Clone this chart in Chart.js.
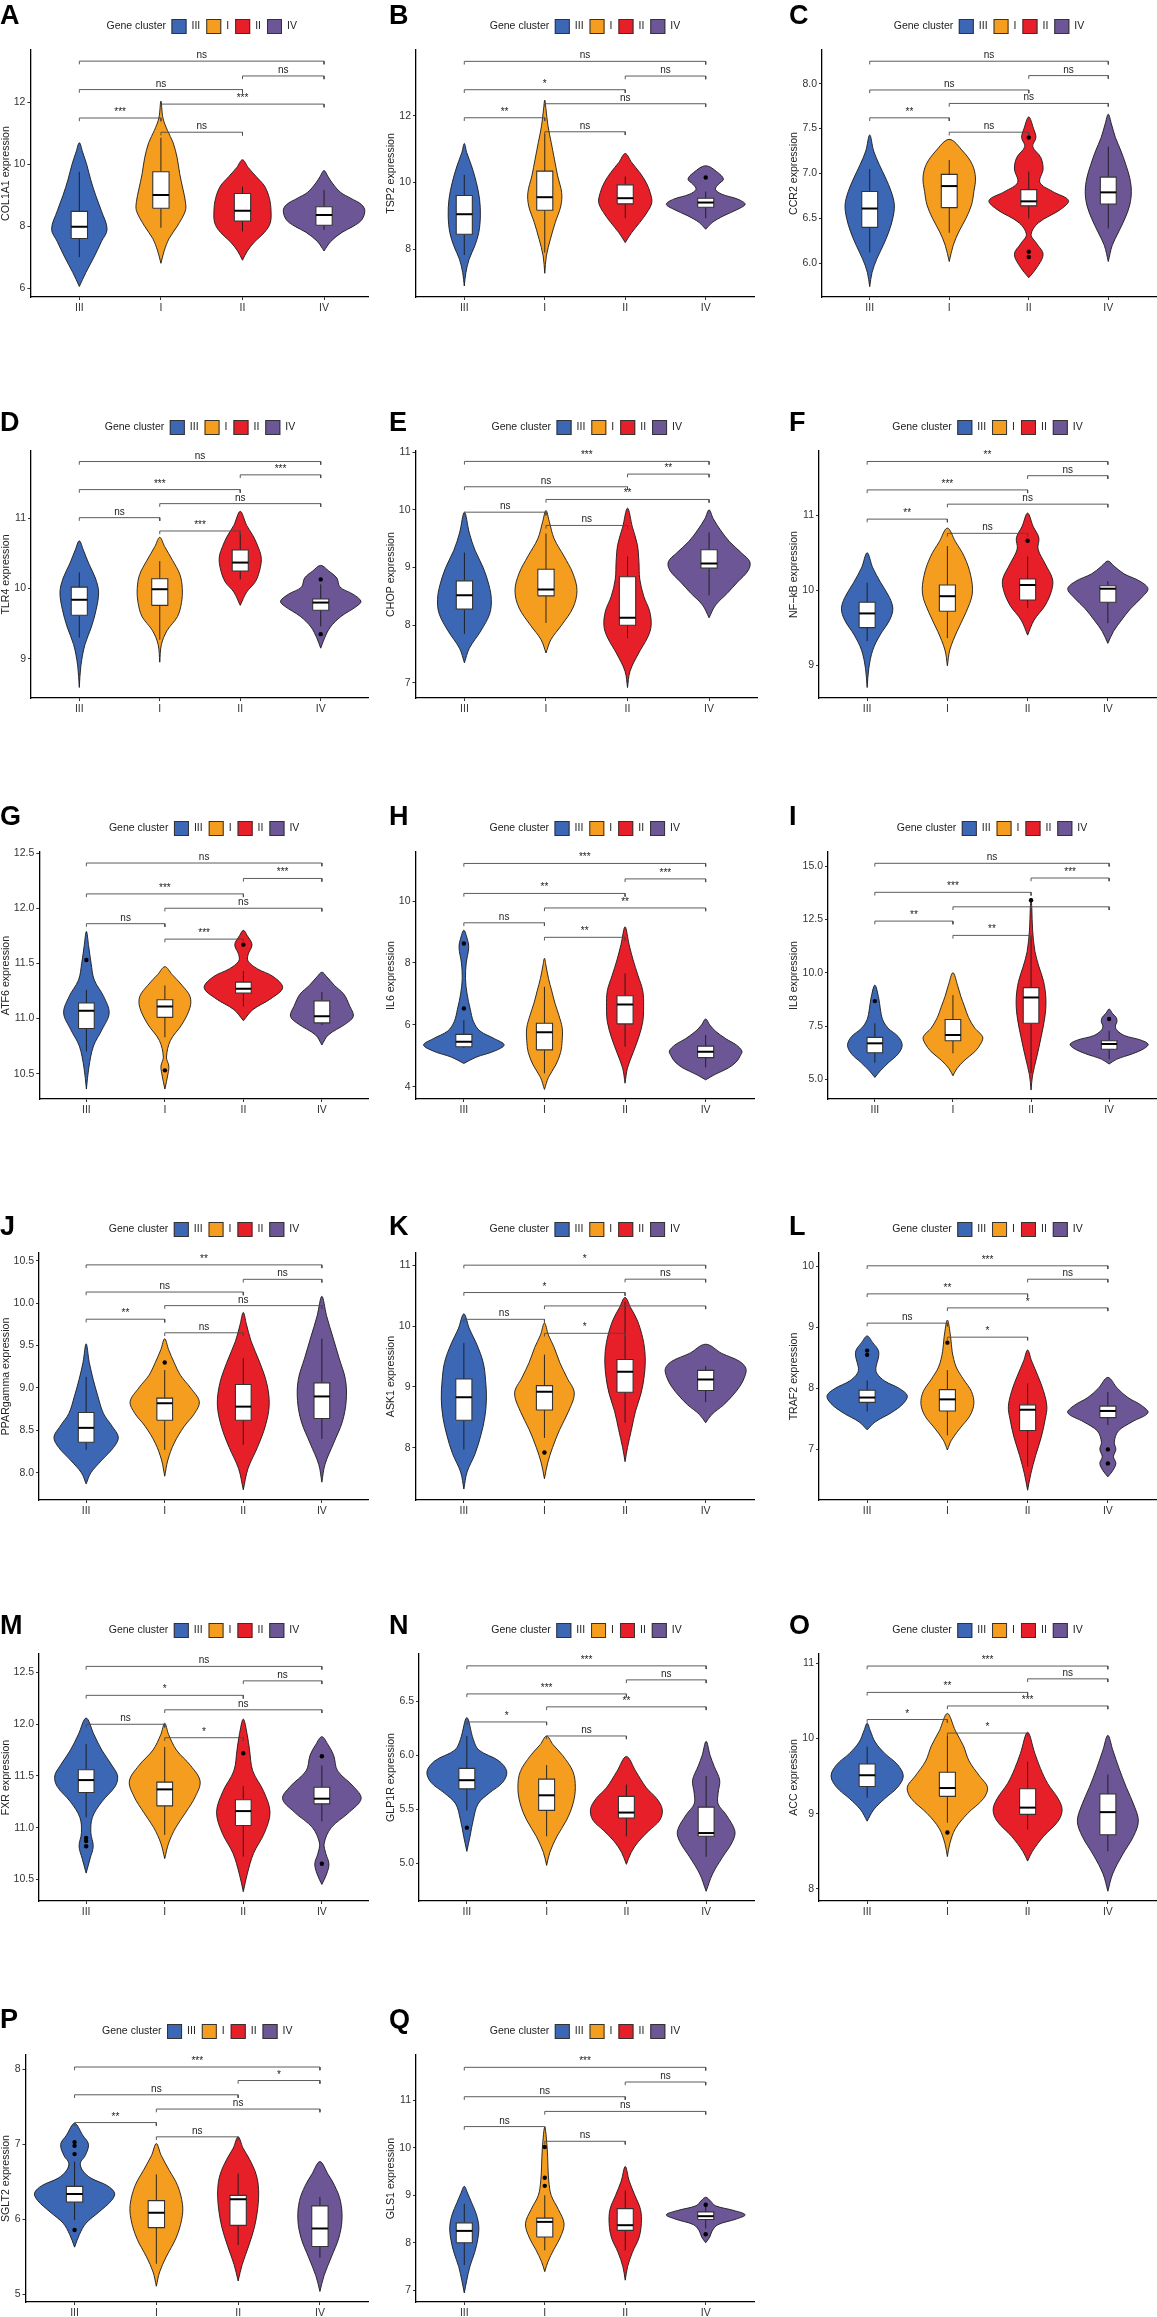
<!DOCTYPE html>
<html lang="en">
<head>
<meta charset="UTF-8" />
<title>Gene cluster expression violins</title>
<script src="https://cdn.jsdelivr.net/npm/chart.js"></script>
<style>
  body { margin: 0; width: 1157px; height: 2317px; position: relative; overflow: hidden; background: #fff; }
  .panel { position: absolute; overflow: hidden; }
  .tag { position: absolute; font: bold 27px/27px "Liberation Sans", Arial, sans-serif; color: #000; }
</style>
</head>
<body>
<script>
// ---- data ----
const clusters = ["III", "I", "II", "IV"];
const panelTags = ["A","B","C","D","E","F","G","H","I","J","K","L","M","N","O","P","Q"];
const genes = ["COL1A1","TSP2","CCR2","TLR4","CHOP","NF\u2212kB","ATF6","IL6","IL8","PPARgamma","ASK1","TRAF2","FXR","GLP1R","ACC","SGLT2","GLS1"];

const yRanges = [[5.71,13.7],[6.57,13.97],[5.625,8.375],[8.44,11.96],[6.74,11.02],[8.56,11.86],
  [10.27,12.51],[3.6,11.59],[4.08,15.66],[7.68,10.59],[7.14,11.2],[6.17,10.22],
  [10.29,12.68],[4.65,6.94],[7.84,11.12],[4.9,8.19],[6.75,11.96]];
const yTicks = [[6,8,10,12],[8,10,12],[6,6.5,7,7.5,8],[9,10,11],[7,8,9,10,11],[9,10,11],
  [10.5,11,11.5,12,12.5],[4,6,8,10],[5,7.5,10,12.5,15],[8,8.5,9,9.5,10,10.5],[8,9,10,11],[7,8,9,10],
  [10.5,11,11.5,12,12.5],[5,5.5,6,6.5],[8,9,10,11],[5,6,7,8],[7,8,9,10,11]];
const tickDecimals = [0,0,1,0,0,0,1,0,1,1,0,0,1,1,0,0,0];

// violin outlines: [value, half width in category units], bottom to top, per cluster III, I, II, IV
const violinShapes = [
 [ // A
  [[6.05,0],[6.5,0.08],[7,0.18],[7.5,0.27],[7.9,0.34],[8.5,0.27],[9,0.2],[9.5,0.14],[10,0.09],[10.4,0.04],[10.7,0]],
  [[6.8,0],[7.2,0.04],[7.6,0.1],[8,0.2],[8.5,0.3],[8.8,0.3],[9.2,0.27],[9.7,0.23],[10.2,0.2],[10.7,0.15],[11.1,0.08],[11.5,0.025],[12.05,0]],
  [[6.9,0],[7.2,0.06],[7.5,0.15],[7.8,0.27],[8.1,0.34],[8.5,0.35],[8.9,0.33],[9.3,0.27],[9.6,0.17],[9.9,0.07],[10.15,0]],
  [[7.2,0],[7.5,0.08],[7.8,0.22],[8,0.36],[8.2,0.46],[8.5,0.5],[8.7,0.46],[8.9,0.33],[9.1,0.2],[9.4,0.1],[9.6,0.05],[9.8,0]]
 ],
 [ // B
  [[6.9,0],[7.3,0.02],[7.7,0.06],[8.1,0.13],[8.5,0.18],[9,0.2],[9.5,0.19],[10,0.15],[10.5,0.09],[10.9,0.03],[11.17,0]],
  [[7.28,0],[7.8,0.02],[8.3,0.07],[8.8,0.13],[9.3,0.2],[9.7,0.21],[10.2,0.16],[10.7,0.12],[11.2,0.08],[11.7,0.04],[12.2,0.015],[12.47,0]],
  [[8.2,0],[8.5,0.08],[8.8,0.18],[9.1,0.27],[9.4,0.33],[9.7,0.31],[10,0.26],[10.3,0.18],[10.6,0.08],[10.87,0]],
  [[8.6,0],[8.8,0.08],[9,0.22],[9.2,0.4],[9.35,0.49],[9.5,0.4],[9.65,0.2],[9.8,0.12],[9.95,0.16],[10.1,0.22],[10.3,0.15],[10.5,0]]
 ],
 [ // C
  [[5.74,0],[5.9,0.03],[6.05,0.09],[6.2,0.17],[6.35,0.24],[6.5,0.29],[6.65,0.31],[6.8,0.27],[6.95,0.2],[7.1,0.12],[7.25,0.05],[7.43,0]],
  [[6.02,0],[6.2,0.05],[6.35,0.12],[6.5,0.21],[6.65,0.28],[6.8,0.31],[6.95,0.33],[7.1,0.29],[7.25,0.17],[7.38,0]],
  [[5.84,0],[5.95,0.1],[6.1,0.18],[6.22,0.1],[6.32,0.03],[6.45,0.12],[6.6,0.4],[6.7,0.5],[6.8,0.3],[6.9,0.14],[7.05,0.18],[7.18,0.15],[7.3,0.05],[7.4,0.09],[7.5,0.06],[7.63,0]],
  [[6.02,0],[6.2,0.05],[6.35,0.13],[6.5,0.21],[6.65,0.27],[6.8,0.29],[6.95,0.27],[7.1,0.22],[7.25,0.16],[7.4,0.09],[7.55,0.04],[7.66,0]]
 ],
 [ // D
  [[8.59,0],[8.9,0.02],[9.2,0.07],[9.45,0.15],[9.7,0.21],[9.95,0.24],[10.15,0.2],[10.35,0.12],[10.55,0.05],[10.68,0]],
  [[8.95,0],[9.2,0.02],[9.4,0.09],[9.6,0.22],[9.8,0.27],[10,0.28],[10.2,0.25],[10.4,0.16],[10.6,0.06],[10.73,0]],
  [[9.76,0],[9.95,0.08],[10.1,0.19],[10.3,0.25],[10.45,0.26],[10.6,0.22],[10.75,0.16],[10.9,0.08],[11.1,0]],
  [[9.15,0],[9.3,0.05],[9.45,0.12],[9.6,0.25],[9.75,0.45],[9.82,0.5],[9.92,0.4],[10.02,0.24],[10.15,0.2],[10.25,0.1],[10.33,0]]
 ],
 [ // E
  [[7.35,0],[7.6,0.06],[7.9,0.2],[8.2,0.31],[8.45,0.33],[8.7,0.3],[9,0.23],[9.3,0.13],[9.6,0.06],[9.96,0]],
  [[7.52,0],[7.75,0.06],[8,0.19],[8.3,0.33],[8.6,0.38],[8.9,0.33],[9.2,0.22],[9.5,0.1],[9.8,0.04],[9.99,0]],
  [[6.92,0],[7.2,0.03],[7.5,0.13],[7.8,0.25],[8,0.29],[8.25,0.27],[8.5,0.2],[8.8,0.15],[9.1,0.14],[9.4,0.12],[9.7,0.06],[10.03,0]],
  [[8.13,0],[8.35,0.08],[8.55,0.22],[8.75,0.35],[8.95,0.48],[9.1,0.5],[9.25,0.4],[9.45,0.25],[9.65,0.14],[9.85,0.05],[10,0]]
 ],
 [ // F
  [[8.7,0],[8.95,0.02],[9.2,0.07],[9.4,0.16],[9.6,0.28],[9.75,0.32],[9.9,0.28],[10.1,0.17],[10.3,0.07],[10.5,0]],
  [[8.99,0],[9.2,0.03],[9.45,0.12],[9.7,0.23],[9.95,0.31],[10.2,0.29],[10.45,0.21],[10.65,0.1],[10.83,0]],
  [[9.4,0],[9.6,0.08],[9.8,0.22],[10,0.3],[10.15,0.31],[10.35,0.22],[10.55,0.13],[10.7,0.14],[10.85,0.07],[11.03,0]],
  [[9.29,0],[9.45,0.07],[9.6,0.17],[9.75,0.28],[9.9,0.42],[10.02,0.5],[10.12,0.4],[10.22,0.2],[10.32,0.08],[10.39,0]]
 ],
 [ // G
  [[10.36,0],[10.55,0.03],[10.75,0.09],[10.9,0.2],[11.05,0.29],[11.2,0.22],[11.35,0.1],[11.5,0.06],[11.65,0.03],[11.79,0]],
  [[10.36,0],[10.5,0.04],[10.57,0.05],[10.65,0.02],[10.8,0.07],[10.95,0.22],[11.1,0.32],[11.2,0.32],[11.3,0.22],[11.4,0.09],[11.47,0]],
  [[10.98,0],[11.08,0.12],[11.18,0.35],[11.28,0.5],[11.38,0.38],[11.45,0.18],[11.52,0.06],[11.58,0.06],[11.67,0.11],[11.75,0.05],[11.8,0]],
  [[10.76,0],[10.85,0.08],[10.95,0.3],[11.02,0.4],[11.12,0.35],[11.22,0.28],[11.3,0.16],[11.38,0.06],[11.42,0]]
 ],
 [ // H
  [[4.75,0],[4.95,0.15],[5.15,0.38],[5.35,0.5],[5.55,0.38],[5.8,0.2],[6.1,0.12],[6.5,0.08],[7,0.04],[7.5,0.02],[8,0.03],[8.5,0.06],[8.8,0.04],[9.06,0]],
  [[3.91,0],[4.3,0.05],[4.7,0.14],[5.1,0.2],[5.5,0.22],[5.9,0.22],[6.3,0.18],[6.7,0.13],[7.1,0.09],[7.5,0.05],[7.9,0.02],[8.15,0]],
  [[4.11,0],[4.6,0.03],[5.1,0.1],[5.6,0.17],[6.1,0.22],[6.6,0.23],[7.1,0.22],[7.6,0.16],[8.1,0.1],[8.6,0.05],[9.17,0]],
  [[4.22,0],[4.4,0.12],[4.6,0.28],[4.8,0.38],[5,0.43],[5.15,0.45],[5.35,0.38],[5.55,0.25],[5.8,0.12],[6,0.05],[6.19,0]]
 ],
 [ // I
  [[5.09,0],[5.4,0.07],[5.8,0.18],[6.2,0.3],[6.6,0.35],[7,0.3],[7.4,0.17],[7.8,0.1],[8.3,0.07],[8.8,0.05],[9.42,0]],
  [[5.17,0],[5.5,0.05],[5.9,0.15],[6.3,0.28],[6.7,0.36],[7,0.38],[7.4,0.28],[7.9,0.2],[8.4,0.15],[8.9,0.1],[9.4,0.06],[10,0]],
  [[4.5,0],[5.2,0.02],[6,0.07],[7,0.13],[8,0.18],[8.8,0.19],[9.6,0.16],[10.3,0.1],[11,0.05],[12,0.02],[13,0.01],[13.5,0]],
  [[5.72,0],[5.95,0.1],[6.2,0.3],[6.45,0.45],[6.65,0.5],[6.85,0.4],[7.05,0.2],[7.3,0.1],[7.5,0.08],[7.7,0.1],[7.9,0.09],[8.1,0.04],[8.3,0]]
 ],
 [ // J
  [[7.87,0],[8,0.06],[8.15,0.2],[8.3,0.35],[8.42,0.41],[8.55,0.33],[8.7,0.22],[8.9,0.15],[9.1,0.09],[9.3,0.04],[9.52,0]],
  [[7.96,0],[8.15,0.04],[8.35,0.12],[8.55,0.25],[8.7,0.38],[8.84,0.44],[9,0.33],[9.15,0.2],[9.3,0.12],[9.45,0.05],[9.58,0]],
  [[7.8,0],[8.05,0.06],[8.3,0.18],[8.55,0.28],[8.8,0.33],[9.05,0.3],[9.3,0.21],[9.55,0.1],[9.75,0.04],[9.89,0]],
  [[7.89,0],[8.1,0.04],[8.35,0.15],[8.6,0.26],[8.85,0.31],[9.1,0.3],[9.35,0.22],[9.6,0.14],[9.85,0.06],[10.08,0]]
 ],
 [ // K
  [[7.32,0],[7.6,0.04],[7.9,0.14],[8.2,0.21],[8.5,0.26],[8.8,0.28],[9.1,0.27],[9.4,0.24],[9.7,0.16],[9.95,0.07],[10.2,0]],
  [[7.49,0],[7.75,0.04],[8,0.1],[8.3,0.19],[8.6,0.3],[8.9,0.37],[9.15,0.28],[9.4,0.19],[9.65,0.12],[9.85,0.05],[10.05,0]],
  [[7.77,0],[8,0.03],[8.3,0.08],[8.6,0.13],[8.9,0.2],[9.2,0.24],[9.5,0.25],[9.8,0.22],[10.1,0.15],[10.3,0.07],[10.47,0]],
  [[8.41,0],[8.55,0.08],[8.7,0.22],[8.85,0.33],[9,0.42],[9.15,0.48],[9.3,0.5],[9.42,0.42],[9.55,0.2],[9.7,0]]
 ],
 [ // L
  [[7.32,0],[7.45,0.1],[7.6,0.3],[7.75,0.45],[7.88,0.5],[8,0.4],[8.12,0.22],[8.25,0.12],[8.35,0.11],[8.5,0.14],[8.62,0.14],[8.75,0.07],[8.86,0]],
  [[6.99,0],[7.15,0.05],[7.35,0.16],[7.55,0.28],[7.75,0.33],[7.95,0.3],[8.15,0.2],[8.35,0.11],[8.6,0.06],[8.85,0.04],[9.12,0]],
  [[6.33,0],[6.6,0.04],[6.9,0.1],[7.2,0.17],[7.5,0.22],[7.7,0.24],[7.95,0.2],[8.2,0.13],[8.45,0.05],[8.63,0]],
  [[6.55,0],[6.65,0.06],[6.77,0.1],[6.88,0.07],[7,0.1],[7.12,0.08],[7.3,0.13],[7.45,0.3],[7.6,0.5],[7.72,0.42],[7.85,0.25],[8,0.12],[8.18,0]]
 ],
 [ // M
  [[10.56,0],[10.7,0.05],[10.82,0.09],[10.95,0.06],[11.1,0.08],[11.25,0.2],[11.4,0.37],[11.5,0.4],[11.6,0.33],[11.75,0.2],[11.9,0.1],[12.06,0]],
  [[10.7,0],[10.85,0.05],[11,0.14],[11.15,0.27],[11.3,0.39],[11.45,0.45],[11.6,0.33],[11.75,0.15],[11.9,0.05],[12.01,0]],
  [[10.38,0],[10.55,0.05],[10.75,0.13],[10.95,0.27],[11.15,0.34],[11.35,0.26],[11.55,0.12],[11.75,0.08],[11.9,0.05],[12.05,0]],
  [[10.45,0],[10.55,0.06],[10.65,0.09],[10.75,0.05],[10.85,0.03],[11,0.12],[11.15,0.35],[11.28,0.5],[11.4,0.4],[11.55,0.2],[11.7,0.15],[11.8,0.08],[11.88,0]]
 ],
 [ // N
  [[5.11,0],[5.25,0.04],[5.4,0.08],[5.55,0.14],[5.65,0.28],[5.75,0.45],[5.85,0.5],[5.95,0.4],[6.05,0.15],[6.15,0.08],[6.35,0]],
  [[4.98,0],[5.1,0.04],[5.25,0.13],[5.4,0.25],[5.55,0.33],[5.7,0.36],[5.85,0.33],[6,0.2],[6.1,0.08],[6.18,0]],
  [[4.99,0],[5.1,0.06],[5.2,0.15],[5.3,0.28],[5.4,0.42],[5.5,0.45],[5.6,0.38],[5.7,0.25],[5.85,0.12],[5.99,0]],
  [[4.74,0],[4.9,0.08],[5.05,0.2],[5.2,0.33],[5.3,0.36],[5.45,0.25],[5.55,0.15],[5.65,0.15],[5.77,0.17],[5.9,0.1],[6,0.05],[6.13,0]]
 ],
 [ // O
  [[8.9,0],[9.05,0.08],[9.2,0.22],[9.35,0.38],[9.5,0.45],[9.65,0.38],[9.8,0.22],[9.95,0.1],[10.1,0.04],[10.2,0]],
  [[8.43,0],[8.6,0.03],[8.8,0.1],[9,0.25],[9.2,0.45],[9.35,0.5],[9.5,0.4],[9.7,0.27],[9.9,0.2],[10.1,0.1],[10.33,0]],
  [[8.37,0],[8.5,0.06],[8.7,0.2],[8.9,0.38],[9.05,0.43],[9.2,0.38],[9.4,0.25],[9.6,0.16],[9.8,0.09],[10.08,0]],
  [[7.97,0],[8.2,0.06],[8.45,0.18],[8.7,0.32],[8.9,0.38],[9.1,0.33],[9.35,0.23],[9.6,0.14],[9.85,0.06],[10.04,0]]
 ],
 [ // P
  [[5.63,0],[5.8,0.06],[5.95,0.14],[6.1,0.3],[6.25,0.45],[6.35,0.49],[6.45,0.4],[6.55,0.2],[6.65,0.1],[6.75,0.07],[6.85,0.13],[7,0.17],[7.12,0.1],[7.28,0]],
  [[5.11,0],[5.3,0.04],[5.5,0.12],[5.75,0.24],[6,0.31],[6.2,0.32],[6.45,0.26],[6.65,0.16],[6.85,0.06],[7.01,0]],
  [[5.18,0],[5.4,0.05],[5.65,0.13],[5.9,0.2],[6.15,0.24],[6.4,0.25],[6.6,0.22],[6.8,0.14],[6.95,0.06],[7.1,0]],
  [[5.04,0],[5.25,0.05],[5.5,0.14],[5.75,0.23],[6,0.27],[6.25,0.25],[6.45,0.18],[6.6,0.1],[6.77,0]]
 ],
 [ // Q
  [[6.94,0],[7.2,0.03],[7.5,0.07],[7.8,0.13],[8.1,0.17],[8.35,0.18],[8.6,0.15],[8.85,0.09],[9.05,0.04],[9.19,0]],
  [[7.39,0],[7.6,0.04],[7.85,0.11],[8.1,0.19],[8.4,0.24],[8.7,0.17],[9,0.08],[9.3,0.05],[9.6,0.04],[10,0.03],[10.44,0]],
  [[7.21,0],[7.5,0.03],[7.8,0.09],[8.1,0.17],[8.4,0.2],[8.7,0.19],[9,0.12],[9.3,0.05],[9.61,0]],
  [[8,0],[8.12,0.05],[8.25,0.08],[8.38,0.15],[8.5,0.38],[8.59,0.49],[8.68,0.35],[8.78,0.12],[8.88,0.06],[8.96,0]]
 ]
];

// box stats per cluster: [lower whisker, q1, median, q3, upper whisker]
const boxStats = [
 [[7.0,7.6,7.98,8.48,9.76],[7.95,8.58,9.01,9.76,10.86],[7.83,8.17,8.5,9.06,9.28],[7.88,8.03,8.36,8.63,9.17]],
 [[7.83,8.45,9.05,9.61,10.23],[7.9,9.17,9.56,10.34,11.45],[8.93,9.36,9.53,9.93,10.18],[8.93,9.26,9.4,9.53,9.73]],
 [[6.12,6.4,6.61,6.8,7.05],[6.34,6.62,6.86,6.99,7.15],[6.5,6.64,6.69,6.82,7.02],[6.39,6.66,6.79,6.96,7.3]],
 [[9.3,9.62,9.84,10.02,10.23],[9.27,9.76,9.99,10.14,10.39],[10.13,10.25,10.37,10.55,10.82],[9.46,9.69,9.8,9.85,10.06]],
 [[7.85,8.28,8.52,8.77,9.26],[8.04,8.51,8.62,8.97,9.59],[7.78,8.0,8.13,8.84,9.19],[8.52,8.99,9.07,9.31,9.61]],
 [[9.32,9.5,9.69,9.84,10.1],[9.36,9.72,9.92,10.07,10.59],[9.76,9.87,10.07,10.15,10.45],[9.56,9.84,10.02,10.06,10.12]],
 [[10.7,10.91,11.07,11.14,11.26],[10.83,11.01,11.11,11.17,11.3],[11.11,11.23,11.27,11.33,11.43],[10.94,10.96,11.02,11.16,11.24]],
 [[5.25,5.29,5.45,5.69,6.15],[4.43,5.19,5.76,6.05,7.23],[5.29,6.03,6.66,6.94,7.66],[4.62,4.94,5.13,5.31,5.67]],
 [[5.78,6.25,6.69,6.97,7.63],[6.22,6.81,7.08,7.81,8.95],[5.3,7.63,8.84,9.3,11.7],[5.94,6.41,6.66,6.81,7.28]],
 [[8.27,8.36,8.53,8.71,9.13],[8.27,8.62,8.82,8.88,9.21],[8.33,8.62,8.78,9.04,9.35],[8.4,8.64,8.9,9.06,9.58]],
 [[7.97,8.45,8.83,9.13,9.72],[8.16,8.62,8.92,9.02,9.53],[8.41,8.91,9.25,9.45,10.4],[8.75,8.94,9.12,9.27,9.34]],
 [[7.62,7.77,7.85,7.97,8.13],[7.23,7.63,7.82,7.98,8.3],[6.72,7.31,7.65,7.73,8.08],[7.4,7.52,7.63,7.71,7.94]],
 [[11.1,11.34,11.46,11.56,11.81],[10.93,11.21,11.37,11.44,11.78],[10.72,11.02,11.16,11.27,11.4],[11.06,11.23,11.28,11.39,11.6]],
 [[5.49,5.69,5.77,5.88,6.18],[5.25,5.49,5.63,5.78,5.91],[5.25,5.42,5.47,5.62,5.73],[5.06,5.25,5.28,5.52,5.81]],
 [[9.21,9.36,9.51,9.66,9.89],[8.88,9.23,9.34,9.55,10.03],[8.79,8.99,9.08,9.33,9.69],[8.5,8.72,9.02,9.26,9.52]],
 [[5.99,6.23,6.34,6.44,6.77],[5.41,5.89,6.09,6.25,6.6],[5.66,5.92,6.27,6.32,6.61],[5.49,5.64,5.88,6.18,6.3]],
 [[7.53,8.0,8.25,8.42,8.82],[7.84,8.12,8.44,8.52,9.0],[7.84,8.26,8.37,8.72,9.1],[8.3,8.49,8.56,8.65,8.82]]
];

const outliers = [
 [[],[],[],[]], [[],[],[],[10.15]], [[],[],[6.07,6.13,7.4],[]], [[],[],[],[9.35,10.13]],
 [[],[],[],[]], [[],[],[10.66],[]], [[11.53],[10.53],[11.67],[]], [[6.53,8.63],[],[],[]],
 [[8.67],[],[13.4],[7.83]], [[],[9.3],[],[]], [[],[7.92],[],[]], [[8.55,8.62],[8.75],[],[7.0,6.77]],
 [[10.82,10.87,10.9],[],[11.72],[10.65,11.69]], [[5.33],[],[],[]], [[],[8.75],[],[]],
 [[5.86,6.87,6.98,7.03],[],[],[]], [[],[9.2,9.37,10.02],[],[8.18,8.8]]
];

// comparisons (cluster indexes) from top bracket to bottom bracket
const pairs = [[0,3],[2,3],[0,2],[1,3],[0,1],[1,2]];
const bracketY = [
 [13.34,12.86,12.42,11.95,11.5,11.04],[13.63,13.19,12.78,12.36,11.94,11.52],[8.25,8.09,7.93,7.78,7.62,7.46],
 [11.81,11.62,11.41,11.21,11.01,10.82],[10.84,10.62,10.4,10.18,9.96,9.73],[11.72,11.53,11.34,11.15,10.95,10.76],
 [12.41,12.27,12.13,12.0,11.86,11.72],[11.22,10.72,10.25,9.78,9.3,8.83],[15.13,14.44,13.77,13.09,12.42,11.75],
 [10.45,10.28,10.13,9.97,9.81,9.65],[11.0,10.77,10.55,10.33,10.11,9.88],[10.01,9.79,9.55,9.32,9.07,8.84],
 [12.56,12.42,12.28,12.14,12.0,11.87],[6.83,6.7,6.57,6.45,6.31,6.18],[10.96,10.79,10.61,10.43,10.25,10.07],
 [8.03,7.85,7.66,7.47,7.29,7.1],[11.7,11.39,11.08,10.77,10.45,10.14]
];
const bracketLabels = [
 ["ns","ns","ns","***","***","ns"],["ns","ns","*","ns","**","ns"],["ns","ns","ns","ns","**","ns"],
 ["ns","***","***","ns","ns","***"],["***","**","ns","**","ns","ns"],["**","ns","***","ns","**","ns"],
 ["ns","***","***","ns","ns","***"],["***","***","**","**","ns","**"],["ns","***","***","","**","**"],
 ["**","ns","ns","ns","**","ns"],["*","ns","*","","ns","*"],["***","ns","**","*","ns","*"],
 ["ns","ns","*","ns","ns","*"],["***","ns","***","**","*","ns"],["***","ns","**","***","*","*"],
 ["***","*","ns","ns","**","ns"],["***","ns","ns","ns","ns","ns"]
];

// ---- layout & style ----
const fillColors = ["#3b67b5", "#f59d1e", "#e71f29", "#6c5695"];
const colStart = [0, 385, 788];
const colRight = [373, 758, 1160];
const clipWidth = [369, 400, 369];
const plotLeft = [30.4,416,822, 31,415.5,819, 39.3,415.5,828, 39,415.5,819, 39,419,819, 25.5,416];
const tagBaseline = [25, 31, 24, 33, 31, 24];
const tagX = [0, 389, 789];
const rowPitch = 401, plotTop = 50, plotBottom = 297, xAxisH = 24;
const FONT = '"Liberation Sans", Arial, sans-serif';

Chart.defaults.font.family = FONT;
Chart.defaults.color = "#333";

const decor = {
  id: "decor",
  afterDraw(chart, args, opts) {
    const { ctx, chartArea, scales } = chart;
    const p = opts.panel;
    ctx.save();
    // significance labels
    ctx.font = "10px " + FONT;
    ctx.fillStyle = "#222";
    ctx.textAlign = "center";
    ctx.textBaseline = "alphabetic";
    pairs.forEach((pr, k) => {
      const lab = bracketLabels[p][k];
      if (!lab) return;
      const x = scales.x.getPixelForValue((pr[0] + pr[1]) / 2 + 1);
      const y = scales.y.getPixelForValue(bracketY[p][k]);
      ctx.fillText(lab, x, y - 3);
    });
    // legend
    ctx.font = "10.5px " + FONT;
    ctx.textAlign = "left";
    ctx.textBaseline = "middle";
    const title = "Gene cluster";
    const tw = ctx.measureText(title).width;
    const widths = clusters.map(c => ctx.measureText(c).width);
    let total = tw + 5.5;
    widths.forEach((w, i) => { total += 15 + 5 + w + (i < 3 ? 6 : 0); });
    let x = (chartArea.left + chartArea.right) / 2 - total / 2;
    const cy = 26.5;
    ctx.fillStyle = "#222";
    ctx.fillText(title, x, cy);
    x += tw + 5.5;
    clusters.forEach((c, i) => {
      ctx.fillStyle = fillColors[i];
      ctx.fillRect(x, cy - 7.5, 15, 15);
      ctx.strokeStyle = "#333";
      ctx.lineWidth = 1;
      ctx.strokeRect(x + 0.5, cy - 7, 14, 14);
      x += 20;
      ctx.fillStyle = "#222";
      ctx.fillText(c, x, cy);
      x += widths[i] + 6;
    });
    ctx.restore();
  }
};

function violinPoints(profile, c) {
  const right = profile.map(([v, w]) => ({ x: c + w, y: v }));
  const left = profile.slice(0, -1).reverse().map(([v, w]) => ({ x: c - w, y: v }));
  return right.concat(left);
}

function buildPanel(p) {
  const row = Math.floor(p / 3), col = p % 3;
  const top = row * rowPitch;
  const wrap = document.createElement("div");
  wrap.className = "panel";
  wrap.style.left = colStart[col] + "px";
  wrap.style.top = top + "px";
  wrap.style.width = clipWidth[col] + "px";
  wrap.style.height = rowPitch + "px";
  const canvas = document.createElement("canvas");
  const W = colRight[col] - colStart[col];
  canvas.width = W; canvas.height = rowPitch;
  canvas.style.width = W + "px"; canvas.style.height = rowPitch + "px";
  wrap.appendChild(canvas);
  document.body.appendChild(wrap);

  const tag = document.createElement("div");
  tag.className = "tag";
  tag.textContent = panelTags[p];
  tag.style.left = tagX[col] + "px";
  tag.style.top = (top + tagBaseline[row] - 22.9) + "px";
  document.body.appendChild(tag);

  const [yMin, yMax] = yRanges[p];
  const tick = (yMax - yMin) * 0.013;
  const datasets = [];
  clusters.forEach((c, i) => {
    const cx = i + 1;
    const [lo, q1, med, q3, hi] = boxStats[p][i];
    const bw = 0.1;
    datasets.push({ data: violinPoints(violinShapes[p][i], cx), fill: "shape", backgroundColor: fillColors[i],
      borderColor: "#1a1a1a", borderWidth: 0.9, tension: 0.35, pointRadius: 0, order: 5 });
    datasets.push({ data: [{ x: cx, y: lo }, { x: cx, y: hi }], borderColor: "#1a1a1a", borderWidth: 0.9,
      pointRadius: 0, fill: false, order: 4 });
    datasets.push({ data: [{ x: cx - bw, y: q1 }, { x: cx + bw, y: q1 }, { x: cx + bw, y: q3 }, { x: cx - bw, y: q3 }, { x: cx - bw, y: q1 }],
      fill: "shape", backgroundColor: "#fff", borderColor: "#333", borderWidth: 1.1, tension: 0, pointRadius: 0, order: 3 });
    datasets.push({ data: [{ x: cx - bw, y: med }, { x: cx + bw, y: med }], borderColor: "#000", borderWidth: 2,
      pointRadius: 0, fill: false, order: 2 });
    if (outliers[p][i].length) {
      datasets.push({ data: outliers[p][i].map(v => ({ x: cx, y: v })), showLine: false, pointRadius: 2.2,
        pointBackgroundColor: "#000", pointBorderWidth: 0, order: 1 });
    }
  });
  pairs.forEach((pr, k) => {
    const h = bracketY[p][k];
    const a = pr[0] + 1, b = pr[1] + 1;
    datasets.push({ data: [{ x: a, y: h - tick }, { x: a, y: h }, { x: b, y: h }, { x: b, y: h - tick }],
      borderColor: "#4a4a4a", borderWidth: 0.9, pointRadius: 0, fill: false, tension: 0, order: 0 });
  });

  new Chart(canvas, {
    type: "line",
    data: { datasets },
    plugins: [decor],
    options: {
      responsive: false,
      animation: false,
      devicePixelRatio: 1,
      events: [],
      layout: { padding: { left: 0, right: 0, top: plotTop, bottom: rowPitch - plotBottom - xAxisH } },
      plugins: { legend: { display: false }, tooltip: { enabled: false }, decor: { panel: p } },
      scales: {
        x: {
          type: "linear", min: 0.4, max: 4.6,
          afterBuildTicks: s => { s.ticks = clusters.map((c, i) => ({ value: i + 1 })); },
          afterFit: s => { s.height = xAxisH; },
          ticks: { callback: v => clusters[v - 1], font: { size: 10.5 }, color: "#333", padding: 2, autoSkip: false, maxRotation: 0 },
          grid: { drawOnChartArea: false, drawTicks: true, tickLength: 3, color: "#333" },
          border: { display: true, color: "#000", width: 1.3 }
        },
        y: {
          type: "linear", min: yMin, max: yMax,
          afterBuildTicks: s => { s.ticks = yTicks[p].map(v => ({ value: v })); },
          afterFit: s => { s.width = plotLeft[p] - colStart[col]; },
          ticks: { callback: v => v.toFixed(tickDecimals[p]), font: { size: 10.5 }, color: "#333", padding: 2, autoSkip: false },
          grid: { drawOnChartArea: false, drawTicks: true, tickLength: 3, color: "#333" },
          border: { display: true, color: "#000", width: 1.3 },
          title: { display: true, text: genes[p] + " expression", font: { size: 10.6 }, color: "#222", padding: { top: 0, bottom: 0 } }
        }
      }
    }
  });
}

panelTags.forEach((t, p) => buildPanel(p));
</script>
</body>
</html>
